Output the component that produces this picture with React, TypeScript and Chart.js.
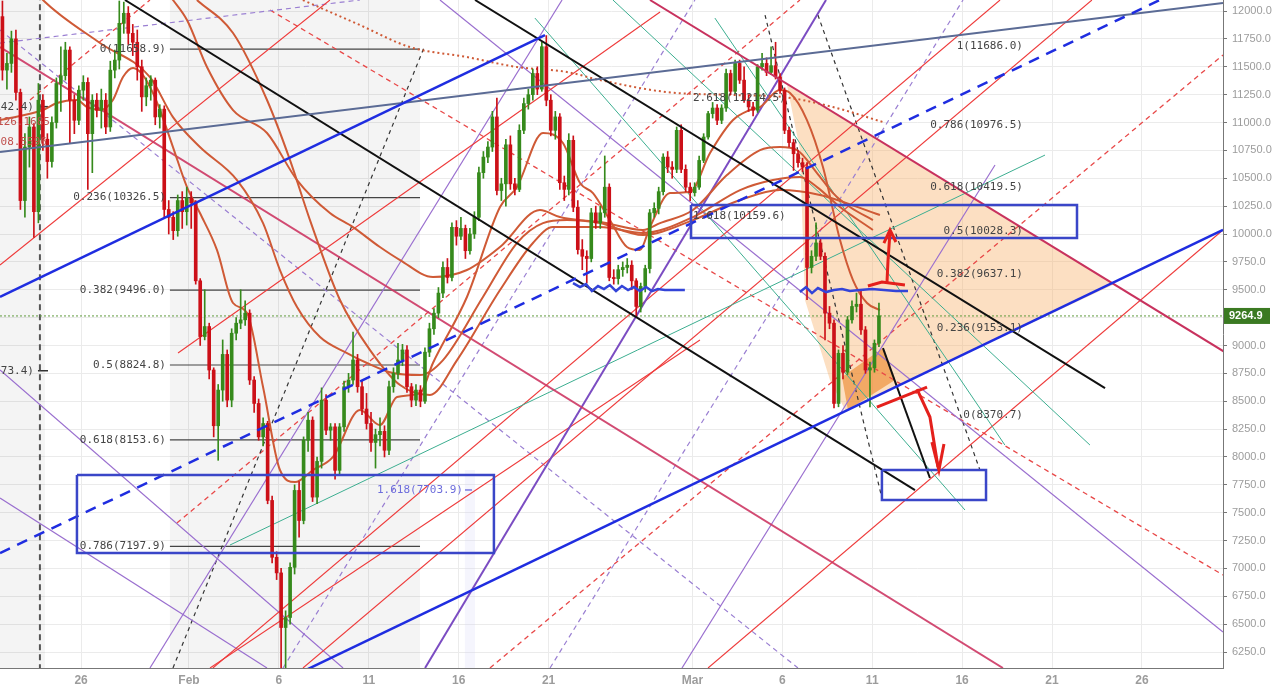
import React, { useEffect, useRef } from "react";
import { Chart, registerables } from "chart.js";

Chart.register(...registerables);

type P = [number, number];

// x positions are days counted from Feb 1 (Feb 1 = 0)
const X_MIN = -10.51;
const X_MAX = 57.51;
const Y_MIN = 6107;
const Y_MAX = 12099;

const xTickDays = [-6, 0, 5, 10, 15, 20, 28, 33, 38, 43, 48, 53];
const xTickLabels = ["26", "Feb", "6", "11", "16", "21", "Mar", "6", "11", "16", "21", "26"];
const yTickValues = [
  6250, 6500, 6750, 7000, 7250, 7500, 7750, 8000, 8250, 8500, 8750, 9000, 9250, 9500,
  9750, 10000, 10250, 10500, 10750, 11000, 11250, 11500, 11750, 12000,
];

const LAST_PRICE = 9264.9;

// 6-hour candles: [open, high, low, close]
const FIRST_CANDLE_DAY = -10.375;
const CANDLE_STEP = 0.25;
const candles: [number, number, number, number][] = [
  [11950, 12090, 11380, 11470], [11470, 11620, 11300, 11530], [11530, 11820, 11450, 11750], [11750, 11830, 11200, 11270],
  [11270, 11300, 10220, 10300], [10300, 10900, 10150, 10780], [10780, 11050, 10600, 10960], [10960, 10990, 9970, 10200],
  [10200, 11350, 10100, 11200], [11200, 11250, 10750, 10850], [10850, 10900, 10500, 10650], [10650, 11050, 10600, 11000],
  [11000, 11400, 10950, 11350], [11350, 11680, 11100, 11420], [11420, 11720, 11380, 11650], [11650, 11680, 10820, 11200],
  [11200, 11250, 10900, 11020], [11020, 11330, 10980, 11290], [11290, 11420, 11200, 11360], [11360, 11400, 10400, 10900],
  [10900, 11250, 10550, 11200], [11200, 11260, 11050, 11110], [11110, 11300, 10950, 11200], [11200, 11260, 10900, 10960],
  [10960, 11550, 10920, 11470], [11470, 11650, 11400, 11560], [11560, 12090, 11480, 11890], [11890, 12080, 11800, 11980],
  [11980, 12040, 11700, 11800], [11800, 11880, 11600, 11720], [11720, 11830, 11380, 11500], [11500, 11560, 11100, 11230],
  [11230, 11400, 11150, 11330], [11330, 11420, 11200, 11380], [11380, 11400, 10980, 11050], [11050, 11160, 10950, 11120],
  [11120, 11150, 10150, 10220], [10220, 10300, 10000, 10150], [10150, 10200, 9950, 10030], [10030, 10350, 9980, 10300],
  [10300, 10380, 10050, 10200], [10200, 10420, 10080, 10320], [10320, 10380, 10050, 10280], [10280, 10300, 9550, 9580],
  [9580, 9600, 9000, 9080], [9080, 9500, 9050, 9170], [9170, 9200, 8700, 8780], [8780, 8800, 8180, 8280],
  [8280, 8650, 7970, 8600], [8600, 9050, 8500, 8920], [8920, 8960, 8450, 8510], [8510, 9150, 8450, 9110],
  [9110, 9250, 9050, 9200], [9200, 9500, 9150, 9230], [9230, 9400, 9180, 9290], [9290, 9320, 8650, 8690],
  [8690, 8720, 8400, 8480], [8480, 8520, 8150, 8180], [8180, 8350, 8100, 8300], [8300, 8320, 7580, 7610],
  [7610, 7650, 7050, 7100], [7100, 7150, 6900, 6960], [6960, 7000, 6050, 6470], [6470, 6620, 6080, 6560],
  [6560, 7050, 6500, 7010], [7010, 7750, 6950, 7700], [7700, 7780, 7280, 7430], [7430, 8180, 7400, 8150],
  [8150, 8400, 8050, 8330], [8330, 8360, 7600, 7640], [7640, 8000, 7580, 7960], [7960, 8620, 7900, 8510],
  [8510, 8560, 8200, 8240], [8240, 8300, 8150, 8270], [8270, 8300, 7800, 7880], [7880, 8300, 7850, 8270],
  [8270, 8680, 8230, 8630], [8630, 8750, 8580, 8690], [8690, 9120, 8650, 8870], [8870, 8920, 8580, 8630],
  [8630, 8680, 8380, 8430], [8430, 8570, 8250, 8300], [8300, 8400, 8050, 8130], [8130, 8250, 7900, 8200],
  [8200, 8350, 8100, 8230], [8230, 8280, 8000, 8060], [8060, 8680, 8020, 8630], [8630, 8800, 8580, 8750],
  [8750, 9020, 8700, 8870], [8870, 9010, 8820, 8960], [8960, 9000, 8580, 8630], [8630, 8660, 8450, 8510],
  [8510, 8650, 8460, 8600], [8600, 8640, 8450, 8500], [8500, 8980, 8480, 8940], [8940, 9200, 8900, 9150],
  [9150, 9330, 9100, 9290], [9290, 9520, 9250, 9470], [9470, 9750, 9430, 9700], [9700, 9780, 9560, 9610],
  [9610, 10100, 9580, 10060], [10060, 10120, 9900, 9980], [9980, 10150, 9950, 10050], [10050, 10080, 9780, 9850],
  [9850, 10050, 9820, 10000], [10000, 10200, 9960, 10150], [10150, 10600, 10120, 10550], [10550, 10740, 10500, 10690],
  [10690, 10830, 10640, 10780], [10780, 11100, 10740, 11050], [11050, 11220, 10350, 10390], [10390, 10500, 10300, 10450],
  [10450, 10850, 10250, 10800], [10800, 10880, 10400, 10450], [10450, 10500, 10350, 10400], [10400, 10980, 10380, 10930],
  [10930, 11220, 10900, 11170], [11170, 11300, 11120, 11250], [11250, 11480, 11200, 11440], [11440, 11500, 11250, 11300],
  [11300, 11720, 11280, 11680], [11680, 11780, 11150, 11200], [11200, 11250, 10880, 10930], [10930, 11100, 10850, 11050],
  [11050, 11080, 10400, 10460], [10460, 10520, 10300, 10400], [10400, 10900, 10350, 10840], [10840, 10880, 10200, 10240],
  [10240, 10300, 9820, 9860], [9860, 9950, 9680, 9800], [9800, 9850, 9560, 9780], [9780, 10230, 9750, 10190],
  [10190, 10250, 10050, 10100], [10100, 10250, 10050, 10190], [10190, 10700, 10150, 10420], [10420, 10450, 9580, 9610],
  [9610, 9680, 9550, 9600], [9600, 9720, 9550, 9680], [9680, 9750, 9620, 9700], [9700, 9780, 9650, 9720],
  [9720, 9760, 9500, 9580], [9580, 9600, 9255, 9350], [9350, 9560, 9300, 9530], [9530, 9720, 9480, 9690],
  [9690, 10220, 9650, 10190], [10190, 10280, 10150, 10230], [10230, 10420, 10180, 10380], [10380, 10720, 10350, 10690],
  [10690, 10740, 10550, 10600], [10600, 10650, 10500, 10580], [10580, 10960, 10550, 10930], [10930, 10980, 10550, 10580],
  [10580, 10620, 10380, 10420], [10420, 10460, 10300, 10370], [10370, 10460, 10340, 10420], [10420, 10700, 10400, 10660],
  [10660, 10900, 10640, 10870], [10870, 11100, 10850, 11080], [11080, 11180, 11040, 11130], [11130, 11160, 10980, 11020],
  [11020, 11160, 10990, 11130], [11130, 11480, 11100, 11440], [11440, 11470, 11250, 11280], [11280, 11560, 11260, 11530],
  [11530, 11560, 11350, 11380], [11380, 11500, 11180, 11200], [11200, 11250, 11100, 11140], [11140, 11180, 11060, 11110],
  [11110, 11520, 11090, 11500], [11500, 11620, 11470, 11530], [11530, 11580, 11420, 11450], [11450, 11680, 11430, 11510],
  [11510, 11720, 11390, 11410], [11410, 11440, 11260, 11290], [11290, 11310, 10900, 10930], [10930, 10960, 10780, 10820],
  [10820, 10850, 10570, 10720], [10720, 10750, 10600, 10640], [10640, 10680, 10560, 10600], [10600, 10640, 9410, 9700],
  [9700, 9850, 9650, 9800], [9800, 10100, 9760, 9920], [9920, 9960, 9770, 9800], [9800, 9830, 9050, 9290],
  [9290, 9350, 9150, 9200], [9200, 9230, 8440, 8480], [8480, 8960, 8450, 8930], [8930, 9000, 8700, 8760],
  [8760, 9260, 8740, 9230], [9230, 9400, 9200, 9350], [9350, 9470, 9300, 9370], [9370, 9500, 9100, 9140],
  [9140, 9170, 8750, 8780], [8780, 8850, 8450, 8800], [8800, 9050, 8760, 9020], [9020, 9380, 8990, 9265],
];

// Moving averages, sampled as [day, price]
const maFast: P[] = [
  [-10.51, 11022], [-8.12, 11112], [-7.34, 11175], [-6.23, 11202], [-5.67, 11139], [-4.95, 11112], [-4.23, 11202],
  [-3.67, 11408], [-3.11, 11489], [-2.56, 11426], [-2.0, 11264], [-1.61, 11112], [-0.89, 10780], [-0.11, 10421],
  [0.61, 10188], [1.56, 9856], [2.45, 9381], [3.23, 9291], [4.12, 8627], [5.06, 7883], [5.9, 7775], [6.9, 7883],
  [8.01, 8000], [9.51, 8421], [10.62, 8286], [11.57, 8538], [12.85, 8573], [13.57, 8843], [15.46, 9435],
  [17.3, 10242], [18.24, 10421], [19.69, 10906], [20.8, 10816], [21.75, 10457], [22.47, 10367], [23.41, 10125],
  [24.36, 9883], [25.08, 9856], [25.64, 10063], [26.75, 10367], [27.86, 10376], [28.98, 10726], [30.26, 11022],
  [31.2, 11112], [31.76, 11139], [32.87, 11291], [33.43, 11264], [34.37, 11022], [35.26, 10601], [36.21, 9946],
  [36.93, 9587], [37.71, 9381], [38.43, 9318],
];
const maMid: P[] = [
  [-9.96, 12457], [-8.12, 12099], [-4.95, 11713], [-2.17, 11408], [-0.89, 11049], [0.61, 10780], [2.67, 10484],
  [4.12, 10098], [5.06, 9677], [6.01, 9345], [7.29, 9076], [8.79, 8932], [9.9, 8843], [11.35, 8753], [12.85, 8735],
  [14.13, 8869], [16.35, 9435], [18.24, 9919], [19.69, 10098], [21.02, 10125], [22.86, 10107], [25.25, 10036],
  [26.2, 10098], [28.03, 10215], [29.92, 10529], [31.76, 10753], [32.87, 10780], [33.82, 10753], [34.93, 10547],
  [35.82, 10367], [36.76, 10242], [38.04, 10125],
];
const maSlow: P[] = [
  [0.44, 12099], [2.45, 11803], [4.34, 11202], [5.62, 10663], [6.73, 10125], [8.4, 9408], [10.07, 8959],
  [11.74, 8645], [13.4, 8556], [14.91, 8869], [17.3, 9497], [19.13, 9919], [20.24, 10062], [22.86, 10062],
  [25.25, 10009], [28.03, 10152], [30.65, 10394], [32.48, 10484], [33.98, 10511], [34.93, 10421], [36.21, 10242],
  [38.04, 10036],
];
const maSlowest: P[] = [
  [-2.17, 12368], [-0.89, 12099], [-0.11, 11919], [1.0, 11498], [2.45, 11112], [4.34, 10906], [6.01, 10484],
  [7.84, 10188], [9.12, 10062], [10.62, 9883], [11.74, 9766], [13.57, 9614], [15.46, 9677], [17.3, 9883],
  [19.52, 10215], [20.63, 10152], [22.86, 10098], [25.25, 9991], [28.03, 10125], [30.65, 10305], [32.87, 10394],
  [35.09, 10350], [38.43, 10170],
];
const maLong: P[] = [
  [5.06, 12188], [9.51, 11874], [12.29, 11677], [15.46, 11587], [18.24, 11498], [21.02, 11453], [22.86, 11381],
  [26.59, 11273], [30.26, 11247], [33.04, 11229], [35.82, 11139], [38.6, 11004],
];

// Trend lines, [day, price] end points
const slateLine: P[] = [[-10.51, 10735], [57.51, 12072]];
const blueUpper: P[] = [[-10.51, 9435], [19.8, 11785]];
const blueLower: P[] = [[5, 5973], [57.51, 10036]];
const blueDashed: P[] = [[-10.51, 7138], [58, 12407]];
const blackUpper: P[] = [[-3.56, 12099], [40.38, 7703]];
const blackLower: P[] = [[15.91, 12099], [50.95, 8618]];
const blackShort: P[] = [[38.6, 8977], [41.21, 7811]];
const crimsonUpper: P[] = [[25.64, 12099], [58, 8902]];
const crimsonLeft: P[] = [[-10.51, 11677], [45.27, 6107]];

const redLines: P[][] = [
  [[-10.51, 9722], [7.84, 12099]],
  [[1.33, 6107], [45.11, 12099]],
  [[6.34, 6107], [50.22, 12099]],
  [[28.87, 6107], [57.51, 10036]],
  [[-0.61, 8932], [26.2, 11991]],
  [[1.17, 6107], [28.42, 9049]],
];
const purpleLines: P[][] = [
  [[-10.51, 8780], [8.57, 6107]],
  [[-10.51, 7632], [4.34, 6107]],
  [[-2.17, 6107], [20.75, 12099]],
  [[27.42, 6107], [44.83, 10619]],
  [[13.96, 12099], [57.51, 6430]],
];
const purpleBold: P[] = [[13.13, 6107], [35.43, 12099]];
const purpleDashed: P[][] = [
  [[5.23, 6107], [28.14, 12099]],
  [[20.08, 6107], [43.05, 12099]],
  [[-10.51, 11713], [9.51, 12099]],
  [[-10.51, 11830], [33.87, 6107]],
];
const blackDashed: P[][] = [
  [[-0.89, 6107], [13.13, 11695]],
  [[32.04, 11964], [38.54, 7632]],
  [[34.98, 11964], [43.99, 7883]],
];
const redDashed: P[][] = [
  [[16.74, 6107], [57.51, 11605]],
  [[-0.67, 7407], [33.98, 12099]],
  [[4.51, 12009], [57.51, 6941]],
  [[-8.84, 11202], [-2.17, 12099]],
];
const tealLines: P[][] = [
  [[2.28, 7210], [47.61, 10708]],
  [[19.24, 11937], [43.16, 7524]],
  [[23.58, 12099], [50.11, 8107]],
  [[29.25, 11937], [45.38, 8107]],
];
const markerDay = -8.29;

// Fibonacci retracements
const FIB_LEFT_FROM = -1.06;
const FIB_LEFT_TO = 12.85;
const fibLeftRatios = ["0", "0.236", "0.382", "0.5", "0.618", "0.786"];
const fibLeftLevels = [11658.9, 10326.5, 9496.0, 8824.8, 8153.6, 7197.9];
const FIB_RIGHT_END = 46.38;
const fibRightRatios = ["1", "0.786", "0.618", "0.5", "0.382", "0.236", "0"];
const fibRightLevels = [11686.0, 10976.5, 10419.5, 10028.3, 9637.1, 9153.1, 8370.7];
const EXT_START = 28.03;
const extRatios = ["2.618", "1.618"];
const extLevels = [11214.5, 10159.6];
const blueExt = { ratio: "1.618", level: 7703.9, end: 15.24, dashFrom: 15.35, dashTo: 15.74 };
const edgeLabels: { ratio: string; level: number }[] = [
  { ratio: "1", level: 11142.4 },
  { ratio: "0.5", level: 8773.4 },
];
const EDGE_LABEL_END = -8.62;
const EDGE_TICK: P = [-8.4, -7.84];
const maTagValues = ["10126.1685", "10008.5596"];
const maTagLevels = [11004, 10825];
const maTagEnds = [-7.73, -7.9];

// Zones
const greyBands: P[] = [[-10.51, -8.01], [FIB_LEFT_FROM, FIB_LEFT_TO]];
const lilacBand = { from: 15.35, to: 15.91, top: 7883 };
const boxes: [number, number, number, number][] = [
  [-6.23, 16.96, 7838, 7138],
  [27.92, 49.39, 10260, 9964],
  [38.54, 44.33, 7883, 7614],
];
const wedge: P[] = [
  [33.26, 11336], [33.98, 10753], [34.26, 9408], [35.65, 8690], [36.49, 8421], [51.5, 9551], [33.26, 11336],
];
const flag: P[] = [[36.32, 8717], [38.6, 8977], [39.27, 8690], [36.65, 8421], [36.32, 8717]];

// Hand-drawn marks
const squiggleFeb: P[] = [
  [21.36, 9560], [21.75, 9524], [22.08, 9551], [22.41, 9488], [22.75, 9533], [23.08, 9506], [23.41, 9542],
  [23.75, 9488], [24.08, 9533], [24.42, 9497], [24.75, 9524], [25.08, 9488], [25.42, 9524], [25.75, 9488],
  [26.08, 9506], [26.47, 9497], [27.03, 9497], [27.58, 9497],
];
const squiggleMar: P[] = [
  [33.98, 9479], [34.32, 9524], [34.65, 9470], [34.98, 9515], [35.43, 9479], [35.87, 9497], [36.32, 9506],
  [36.76, 9488], [37.32, 9497], [37.99, 9506], [38.65, 9497], [39.32, 9488], [39.99, 9488],
];
const arrowUp: P[][] = [
  [[37.76, 9533], [38.54, 9569], [39.82, 9542]],
  [[38.82, 9560], [38.88, 9766], [38.99, 10018]],
  [[38.65, 9919], [38.99, 10036], [39.32, 9928]],
];
const arrowDown: P[][] = [
  [[38.26, 8448], [41.05, 8627]],
  [[40.49, 8609], [41.21, 8358], [41.66, 7910]],
  [[41.32, 8134], [41.71, 7883], [41.99, 8116]],
];

const GREEN = "#368a1c";
const RED = "#cc1018";
const MA_COLOR = "#cf5a36";

const pts = (p: P[]) => p.map(([x, y]) => ({ x, y }));

const lineDs = (p: P[], color: string, width: number, order: number, dash: number[] = []) => ({
  type: "line" as const,
  data: pts(p),
  borderColor: color,
  borderWidth: width,
  borderDash: dash,
  pointRadius: 0,
  fill: false,
  tension: 0,
  order,
});

const shapeDs = (p: P[], color: string, order: number) => ({
  type: "line" as const,
  data: pts(p),
  borderColor: "rgba(0,0,0,0)",
  borderWidth: 0,
  backgroundColor: color,
  pointRadius: 0,
  fill: "shape",
  tension: 0,
  order,
});

const maDs = (p: P[], dash: number[] = []) => ({
  type: "line" as const,
  data: pts(p),
  borderColor: MA_COLOR,
  borderWidth: 2,
  borderDash: dash,
  pointRadius: 0,
  fill: false,
  cubicInterpolationMode: "monotone" as const,
  order: 8,
});

const rect = (x1: number, x2: number, y1: number, y2: number): P[] => [
  [x1, y1], [x2, y1], [x2, y2], [x1, y2], [x1, y1],
];

function buildDatasets() {
  const ds: any[] = [];
  greyBands.forEach(([a, b]) => ds.push(shapeDs(rect(a, b, Y_MIN - 100, Y_MAX + 100), "rgba(0,0,0,0.045)", 60)));
  ds.push(shapeDs(rect(lilacBand.from, lilacBand.to, Y_MIN - 100, lilacBand.top), "rgba(205,205,245,0.2)", 60));
  ds.push(shapeDs(wedge, "rgba(248,178,110,0.42)", 45));
  ds.push(shapeDs(flag, "rgba(236,140,50,0.65)", 44));

  ds.push(lineDs([[markerDay, Y_MIN - 200], [markerDay, Y_MAX + 200]], "#555", 2, 30, [6, 4]));
  fibLeftLevels.forEach((v) => ds.push(lineDs([[FIB_LEFT_FROM, v], [FIB_LEFT_TO, v]], "#444", 1.2, 30)));
  ds.push(lineDs([[blueExt.dashFrom, blueExt.level], [blueExt.dashTo, blueExt.level]], "#7a7ae0", 1.5, 30));
  edgeLabels.forEach((l) => ds.push(lineDs([[EDGE_TICK[0], l.level], [EDGE_TICK[1], l.level]], "#333", 1.5, 30)));
  ds.push(lineDs([[X_MIN, LAST_PRICE], [X_MAX, LAST_PRICE]], "#5f9a3c", 1, 29, [2, 2]));

  tealLines.forEach((l) => ds.push(lineDs(l, "#3cae90", 1, 20)));
  redLines.forEach((l) => ds.push(lineDs(l, "#ee3a3a", 1.1, 20)));
  purpleLines.forEach((l) => ds.push(lineDs(l, "#9a6fcf", 1.2, 20)));
  purpleDashed.forEach((l) => ds.push(lineDs(l, "#9a7fd2", 1.2, 20, [5, 4])));
  blackDashed.forEach((l) => ds.push(lineDs(l, "#333", 1.2, 20, [4, 4])));
  redDashed.forEach((l) => ds.push(lineDs(l, "#e84848", 1.3, 20, [5, 4])));
  ds.push(lineDs(purpleBold, "#7b4cc2", 2, 19));
  ds.push(lineDs(crimsonLeft, "rgba(205,55,100,0.9)", 2, 18));

  ds.push(maDs(maLong, [2, 3]));
  ds.push(maDs(maSlowest));
  ds.push(maDs(maSlow));
  ds.push(maDs(maMid));
  ds.push(maDs(maFast));

  const day = (i: number) => FIRST_CANDLE_DAY + i * CANDLE_STEP;
  const colors = candles.map((c) => (c[3] >= c[0] ? GREEN : RED));
  ds.push({
    type: "bar",
    data: candles.map((c, i) => ({ x: day(i), y: [c[2], c[1]] })),
    backgroundColor: colors,
    barThickness: 1,
    grouped: false,
    order: 7,
  });
  ds.push({
    type: "bar",
    data: candles.map((c, i) => ({ x: day(i), y: [Math.min(c[0], c[3]), Math.max(c[0], c[3])] })),
    backgroundColor: colors,
    barThickness: 3,
    minBarLength: 1,
    grouped: false,
    order: 6,
  });

  ds.push(lineDs(slateLine, "#5b6b95", 2, 5));
  ds.push(lineDs(blackUpper, "#111", 2, 5));
  ds.push(lineDs(blackLower, "#111", 2, 5));
  ds.push(lineDs(blackShort, "#111", 2, 5));
  ds.push(lineDs(crimsonUpper, "#c8325e", 2, 5));
  ds.push(lineDs(blueUpper, "#1f2de0", 2.5, 4));
  ds.push(lineDs(blueLower, "#1f2de0", 2.5, 4));
  ds.push(lineDs(blueDashed, "#1f2de0", 2.5, 4, [11, 8]));

  boxes.forEach(([a, b, p1, p2]) => ds.push(lineDs(rect(a, b, p1, p2), "#3a46c8", 2.5, 3)));
  ds.push(lineDs(squiggleFeb, "#3344d8", 2.5, 2));
  ds.push(lineDs(squiggleMar, "#3344d8", 2.5, 2));
  [...arrowUp, ...arrowDown].forEach((l) => ds.push(lineDs(l, "#e4201c", 3, 1)));
  return ds;
}

const labelsPlugin = {
  id: "fibLabels",
  afterDatasetsDraw(chart: any) {
    const { ctx, chartArea, scales } = chart;
    const xs = scales.x;
    const ys = scales.y;
    ctx.save();
    ctx.beginPath();
    ctx.rect(chartArea.left, chartArea.top, chartArea.right - chartArea.left, chartArea.bottom - chartArea.top);
    ctx.clip();
    ctx.textBaseline = "middle";
    const mono = '11px "DejaVu Sans Mono", monospace';
    const put = (s: string, d: number, v: number, align: CanvasTextAlign, color: string, dx = 0) => {
      ctx.font = mono;
      ctx.fillStyle = color;
      ctx.textAlign = align;
      ctx.fillText(s, xs.getPixelForValue(d) + dx, ys.getPixelForValue(v));
    };
    fibLeftLevels.forEach((v, i) => put(`${fibLeftRatios[i]}(${v.toFixed(1)})`, FIB_LEFT_FROM, v, "right", "#444", -4));
    fibRightLevels.forEach((v, i) => put(`${fibRightRatios[i]}(${v.toFixed(1)})`, FIB_RIGHT_END, v, "right", "#444"));
    extLevels.forEach((v, i) => put(`${extRatios[i]}(${v.toFixed(1)})`, EXT_START, v, "left", "#444"));
    put(`${blueExt.ratio}(${blueExt.level.toFixed(1)})`, blueExt.end, blueExt.level, "right", "#6d6ddc");
    edgeLabels.forEach((l) => put(`${l.ratio}(${l.level.toFixed(1)})`, EDGE_LABEL_END, l.level, "right", "#444"));
    maTagValues.forEach((t, i) => put(t, maTagEnds[i], maTagLevels[i], "right", "#c0504d"));
    ctx.restore();
  },
  afterDraw(chart: any) {
    const { ctx, chartArea, scales } = chart;
    const yPix = scales.y.getPixelForValue(LAST_PRICE);
    ctx.save();
    ctx.fillStyle = "#3b7a22";
    ctx.fillRect(chartArea.right + 1, yPix - 8, 46, 16);
    ctx.fillStyle = "#fff";
    ctx.font = "bold 11px 'Liberation Sans', Arial, sans-serif";
    ctx.textAlign = "left";
    ctx.textBaseline = "middle";
    ctx.fillText(LAST_PRICE.toFixed(1), chartArea.right + 6, yPix + 0.5);
    ctx.restore();
  },
};

export default function App() {
  const canvasRef = useRef<HTMLCanvasElement>(null);

  useEffect(() => {
    if (!canvasRef.current) return;
    Chart.defaults.font.family = "'Liberation Sans', Arial, sans-serif";
    const chart = new Chart(canvasRef.current, {
      type: "line",
      data: { datasets: buildDatasets() },
      plugins: [labelsPlugin],
      options: {
        responsive: false,
        animation: false,
        devicePixelRatio: 1,
        events: [],
        layout: { padding: 0 },
        plugins: { legend: { display: false }, tooltip: { enabled: false } },
        scales: {
          x: {
            type: "linear",
            min: X_MIN,
            max: X_MAX,
            offset: false,
            grid: { color: "#ebebeb", drawTicks: false, offset: false },
            border: { color: "#777" },
            ticks: {
              autoSkip: false,
              maxRotation: 0,
              padding: 5,
              color: "#9c9c9c",
              font: { size: 12, weight: "bold" },
              callback: (_v: any, i: number) => xTickLabels[i],
            },
            afterBuildTicks: (s: any) => {
              s.ticks = xTickDays.map((v) => ({ value: v }));
            },
            afterFit: (s: any) => {
              s.height = 19;
              s.paddingLeft = 0;
              s.paddingRight = 0;
            },
          },
          y: {
            type: "linear",
            position: "right",
            min: Y_MIN,
            max: Y_MAX,
            grid: { color: "#ebebeb", tickLength: 4, tickColor: "#777" },
            border: { color: "#777" },
            ticks: {
              padding: 5,
              color: "#9c9c9c",
              font: { size: 11 },
              callback: (v: any) => Number(v).toFixed(1),
            },
            afterBuildTicks: (s: any) => {
              s.ticks = yTickValues.map((v) => ({ value: v }));
            },
            afterFit: (s: any) => {
              s.width = 57;
              s.paddingTop = 0;
              s.paddingBottom = 0;
            },
          },
        },
      } as any,
    });
    return () => chart.destroy();
  }, []);

  return (
    <div style={{ position: "absolute", left: 0, top: 0, width: 1280, height: 687, background: "#fff" }}>
      <canvas ref={canvasRef} width={1280} height={687} style={{ display: "block" }} />
    </div>
  );
}
